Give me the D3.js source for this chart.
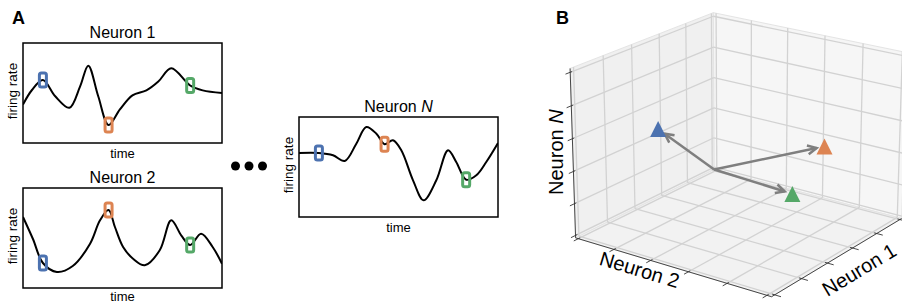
<!DOCTYPE html>
<html>
<head>
<meta charset="utf-8">
<script src="https://cdn.jsdelivr.net/npm/d3@7"></script>
<style>
	body { margin: 0; background: #fff; }
	text { font-family: "Liberation Sans", Arial, sans-serif; }
</style>
</head>
<body>
<div id="chart"></div>
<script>
// snapshot times (blue, orange, green) shared by every neuron
var snapTimes = [0.10, 0.43, 0.84];
var snapColors = ["#4c72b0", "#dd8452", "#55a868"];

// firing rate traces, time and value both 0..1
var n1Time = [0, 0.045, 0.10, 0.162, 0.233, 0.287, 0.328, 0.378, 0.43, 0.487, 0.55, 0.62, 0.68, 0.745, 0.84, 0.903, 1];
var n1Rate = [0.385, 0.53, 0.63, 0.467, 0.352, 0.566, 0.773, 0.467, 0.18, 0.336, 0.477, 0.526, 0.615, 0.747, 0.575, 0.526, 0.5];

var n2Time = [0, 0.05, 0.10, 0.17, 0.25, 0.337, 0.387, 0.43, 0.462, 0.503, 0.553, 0.612, 0.687, 0.745, 0.795, 0.84, 0.895, 0.953, 1];
var n2Rate = [0.71, 0.49, 0.25, 0.16, 0.22, 0.443, 0.677, 0.78, 0.61, 0.41, 0.293, 0.227, 0.377, 0.677, 0.527, 0.43, 0.543, 0.41, 0.243];

var nNTime = [0, 0.10, 0.171, 0.23, 0.288, 0.338, 0.389, 0.43, 0.472, 0.514, 0.573, 0.626, 0.69, 0.749, 0.79, 0.84, 0.891, 0.941, 1];
var nNRate = [0.64, 0.64, 0.617, 0.56, 0.733, 0.9, 0.833, 0.727, 0.767, 0.667, 0.367, 0.167, 0.367, 0.667, 0.55, 0.373, 0.417, 0.55, 0.74];

// state space points: [neuron 1, neuron 2, neuron N]
var stateOrigin = [0, 0, 0];
var statePoints = [[0.69, 0.21, 0.59], [0.30, 0.79, 0.50], [0.45, 0.73, 0.26]];
var gridTicks = [0.015, 0.207, 0.4, 0.593, 0.785, 0.978];
var axisNames = ["Neuron 1", "Neuron 2", "Neuron "];

var width = 902, height = 303;
var svg = d3.select("#chart").append("svg")
	.attr("width", width)
	.attr("height", height);

svg.append("text").attr("x", 12).attr("y", 24)
	.style("font-size", "18px").style("font-weight", "bold").text("A");
svg.append("text").attr("x", 556).attr("y", 24)
	.style("font-size", "18px").style("font-weight", "bold").text("B");

var traces = [
	{ name: "Neuron 1", time: n1Time, rate: n1Rate, left: 23, top: 43 },
	{ name: "Neuron 2", time: n2Time, rate: n2Rate, left: 23, top: 188 },
	{ name: "Neuron ", italic: "N", time: nNTime, rate: nNRate, left: 299, top: 117 }
];

traces.forEach(function(tr, k)
{
	drawTrace(tr, k);
});

function drawTrace(tr, k)
{
	var w = 199, h = 100;
	var g = svg.append("g").attr("transform", "translate(" + tr.left + "," + tr.top + ")");

	var x = d3.scaleLinear().domain([0, 1]).range([0, w]);
	var y = d3.scaleLinear().domain([0, 1]).range([h, 0]);

	g.append("clipPath").attr("id", "clip-" + k)
		.append("rect").attr("width", w).attr("height", h);

	var pts = tr.time.map(function(t, i) { return [t, tr.rate[i]]; });

	var line = d3.line()
		.curve(d3.curveCatmullRom.alpha(0.5))
		.x(function(d) { return x(d[0]); })
		.y(function(d) { return y(d[1]); });

	g.append("path")
		.attr("d", line(pts))
		.attr("clip-path", "url(#clip-" + k + ")")
		.style("fill", "none")
		.style("stroke", "#000")
		.style("stroke-width", 2);

	g.append("rect")
		.attr("width", w).attr("height", h)
		.style("fill", "none").style("stroke", "#000").style("stroke-width", 1.5);

	// colored snapshot boxes
	g.selectAll(".snap")
		.data(snapTimes)
		.enter()
		.append("rect")
		.attr("class", "snap")
		.attr("x", function(t) { return x(t) - 3.5; })
		.attr("y", function(t) { return y(tr.rate[tr.time.indexOf(t)]) - 7; })
		.attr("width", 7).attr("height", 14)
		.attr("rx", 2)
		.style("fill", "none")
		.style("stroke", function(d, i) { return snapColors[i]; })
		.style("stroke-width", 3);

	var title = g.append("text")
		.attr("x", w / 2).attr("y", -5)
		.attr("text-anchor", "middle")
		.style("font-size", "16px")
		.text(tr.name);
	if(tr.italic)
	{
		title.append("tspan").style("font-style", "italic").text(tr.italic);
	}

	g.append("text")
		.attr("transform", "translate(-11," + (h / 2 - 2) + ") rotate(-90)")
		.attr("text-anchor", "middle")
		.attr("dominant-baseline", "central")
		.style("font-size", "13.5px")
		.text("firing rate");

	// keep the lowest label inside the picture
	g.append("text")
		.attr("x", w / 2).attr("y", Math.min(h + 14.5, height - 2 - tr.top))
		.attr("text-anchor", "middle")
		.style("font-size", "13px")
		.text("time");
}

// ellipsis between the traces
svg.selectAll(".dot")
	.data(d3.range(3))
	.enter()
	.append("circle")
	.attr("cx", function(i) { return 235.5 + i * 13.5; })
	.attr("cy", 166)
	.attr("r", 4.5)
	.style("fill", "#000");

// ---- 3D state space ----
// camera fitted to the box: azim, elev, dist, scale, cx, cy, box aspect z, box aspect y
var cam = { azim: -54.32, elev: 20.44, dist: 8.03, s: 1924, cx: 740.6, cy: 145.6, az: 0.7465, ay: 0.978 };

function dot3(a, b) { return a[0] * b[0] + a[1] * b[1] + a[2] * b[2]; }
function cross3(a, b) { return [a[1] * b[2] - a[2] * b[1], a[2] * b[0] - a[0] * b[2], a[0] * b[1] - a[1] * b[0]]; }
function unit3(a) { var l = Math.sqrt(dot3(a, a)); return [a[0] / l, a[1] / l, a[2] / l]; }

var asp = [1, cam.ay, cam.az];
var ctr = asp.map(function(v) { return v / 2; });
var ra = cam.azim * Math.PI / 180, re = cam.elev * Math.PI / 180;
var eye = [ctr[0] + cam.dist * Math.cos(re) * Math.cos(ra), ctr[1] + cam.dist * Math.cos(re) * Math.sin(ra), ctr[2] + cam.dist * Math.sin(re)];
var fwd = unit3([ctr[0] - eye[0], ctr[1] - eye[1], ctr[2] - eye[2]]);
var rgt = unit3(cross3(fwd, [0, 0, 1]));
var upv = cross3(rgt, fwd);

// box coords (bx, by, bz) in 0..1 -> screen
function proj(b)
{
	var v = [b[0] * asp[0] - eye[0], b[1] * asp[1] - eye[1], b[2] * asp[2] - eye[2]];
	var zc = dot3(v, fwd);
	return [cam.cx + cam.s * dot3(v, rgt) / zc, cam.cy - cam.s * dot3(v, upv) / zc];
}

// data (neuron 1, neuron 2, neuron N) -> box
function toBox(p) { return [p[1], 1 - p[0], p[2]]; }

var g3 = svg.append("g");
var lineGen = d3.line();

function seg(a, b, color, lw)
{
	g3.append("path")
		.attr("d", lineGen([proj(a), proj(b)]))
		.style("fill", "none")
		.style("stroke", color)
		.style("stroke-width", lw);
}

var panes = [
	{ c: [[0, 0, 0], [0, 1, 0], [0, 1, 1], [0, 0, 1]], fill: "#f0f0f0" },
	{ c: [[0, 1, 0], [1, 1, 0], [1, 1, 1], [0, 1, 1]], fill: "#f6f6f6" },
	{ c: [[0, 0, 0], [1, 0, 0], [1, 1, 0], [0, 1, 0]], fill: "#f2f2f2" }
];

g3.selectAll(".pane")
	.data(panes)
	.enter()
	.append("path")
	.attr("class", "pane")
	.attr("d", function(d) { return lineGen(d.c.map(proj)) + "Z"; })
	.style("fill", function(d) { return d.fill; })
	.style("stroke", "#e4e4e4")
	.style("stroke-width", 1);

var gridColor = "#d2d2d2", gridWidth = 1.3;
gridTicks.forEach(function(t)
{
	var inv = 1 - t;
	// left pane (bx = 0): neuron 1 verticals, neuron N horizontals
	seg([0, inv, 0], [0, inv, 1], gridColor, gridWidth);
	seg([0, 0, t], [0, 1, t], gridColor, gridWidth);
	// right pane (by = 1): neuron 2 verticals, neuron N horizontals
	seg([t, 1, 0], [t, 1, 1], gridColor, gridWidth);
	seg([0, 1, t], [1, 1, t], gridColor, gridWidth);
	// floor
	seg([t, 0, 0], [t, 1, 0], gridColor, gridWidth);
	seg([0, inv, 0], [1, inv, 0], gridColor, gridWidth);
});

// axis lines with ticks
var axisColor = "#333";
seg([0, 0, 0], [1, 0, 0], axisColor, 0.9);
seg([1, 0, 0], [1, 1, 0], axisColor, 0.9);
seg([0, 0, 0], [0, 0, 1], axisColor, 0.9);
gridTicks.forEach(function(t)
{
	seg([t, 0.012, 0], [t, -0.03, 0], axisColor, 0.9);
	seg([0.988, 1 - t, 0], [1.03, 1 - t, 0], axisColor, 0.9);
	seg([0, 0.012, t], [0, -0.03, t], axisColor, 0.9);
});

function edgeAngle(a, b)
{
	var p = proj(a), q = proj(b);
	return Math.atan2(q[1] - p[1], q[0] - p[0]) * 180 / Math.PI;
}

function axisLabel(anchor, angle, name, italic)
{
	var p = proj(anchor);
	var t = g3.append("text")
		.attr("transform", "translate(" + p[0] + "," + p[1] + ") rotate(" + angle + ")")
		.attr("text-anchor", "middle")
		.attr("dominant-baseline", "central")
		.style("font-size", "20px")
		.text(name);
	if(italic)
	{
		t.append("tspan").style("font-style", "italic").text(italic);
	}
}

axisLabel([0.42, -0.10, 0], edgeAngle([0, 0, 0], [1, 0, 0]), axisNames[1]);
axisLabel([1.14, 0.427, 0], edgeAngle([1, 0, 0], [1, 1, 0]), axisNames[0]);
axisLabel([-0.075, -0.02, 0.5], -90, axisNames[2], "N");

// arrows from the origin toward each state
var o = proj(toBox(stateOrigin));
statePoints.forEach(function(p)
{
	var e = proj(toBox(p));
	var dx = e[0] - o[0], dy = e[1] - o[1], len = Math.sqrt(dx * dx + dy * dy);
	var ux = dx / len, uy = dy / len;
	var tip = [e[0] - ux * 8, e[1] - uy * 8];
	var headLen = 9, headW = 4.5;
	var back = [tip[0] - ux * headLen, tip[1] - uy * headLen];
	g3.append("path")
		.attr("d", lineGen([o, tip]))
		.style("stroke", "#7f7f7f").style("stroke-width", 2.5).style("fill", "none");
	g3.append("path")
		.attr("d", lineGen([[back[0] - uy * headW, back[1] + ux * headW], tip, [back[0] + uy * headW, back[1] - ux * headW]]))
		.style("stroke", "#7f7f7f").style("stroke-width", 2.5).style("fill", "none")
		.style("stroke-linejoin", "miter");
});

g3.selectAll(".state")
	.data(statePoints)
	.enter()
	.append("path")
	.attr("class", "state")
	.attr("transform", function(d) { var p = proj(toBox(d)); return "translate(" + p[0] + "," + p[1] + ")"; })
	.attr("d", "M0,-8L8,8L-8,8Z")
	.style("fill", function(d, i) { return snapColors[i]; });
</script>
</body>
</html>
